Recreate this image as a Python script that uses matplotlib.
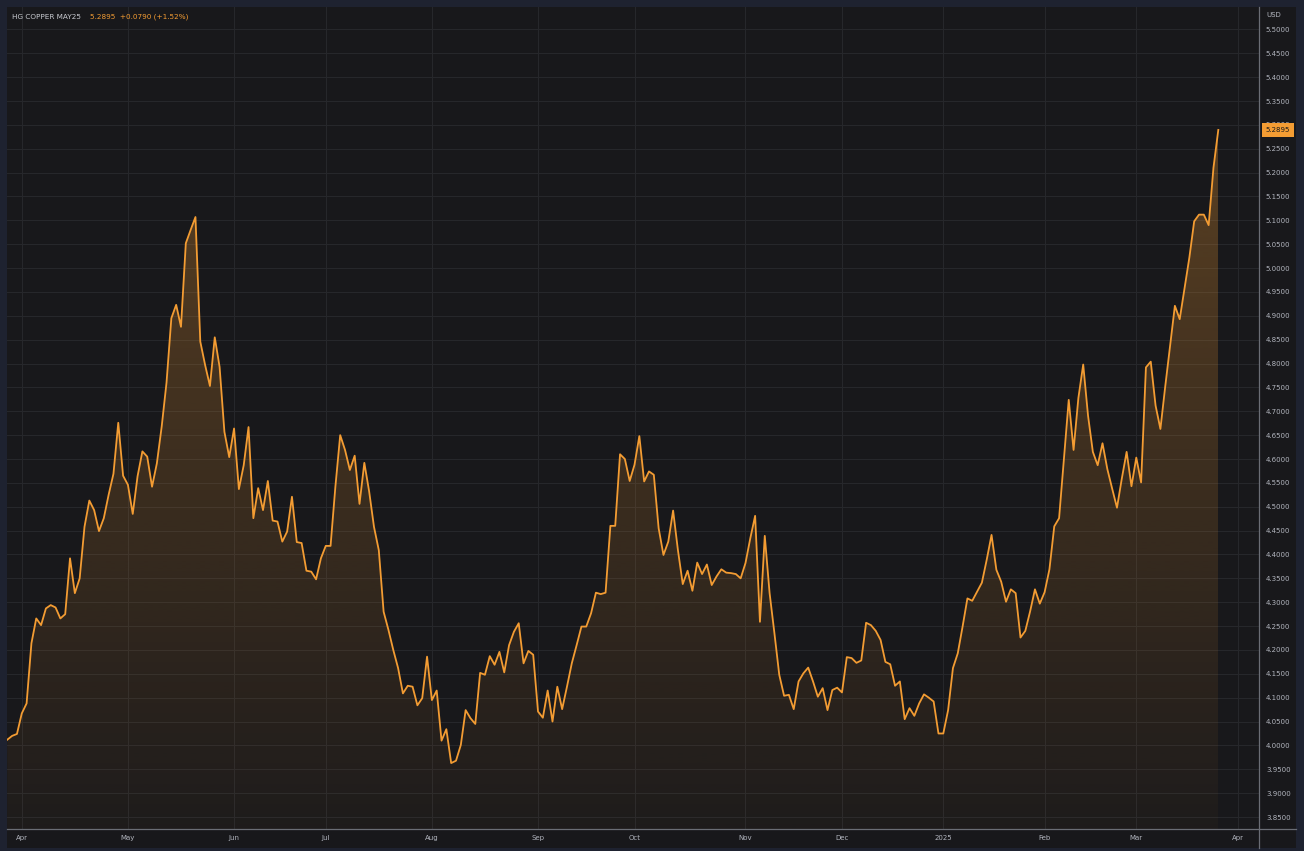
import numpy as np
import pandas as pd
import matplotlib
matplotlib.use("Agg")
import matplotlib.pyplot as plt
from matplotlib.patches import Rectangle
from matplotlib.lines import Line2D
from matplotlib.colors import to_rgb

# HG copper (May 25 contract), daily closes
price = [
    4.012, 4.020, 4.024, 4.067, 4.088, 4.214, 4.266, 4.252, 4.287, 4.294,
    4.289, 4.266, 4.275, 4.392, 4.319, 4.350, 4.458, 4.513, 4.493, 4.449,
    4.476, 4.525, 4.569, 4.676, 4.565, 4.546, 4.485, 4.564, 4.616, 4.605,
    4.542, 4.591, 4.668, 4.760, 4.895, 4.923, 4.877, 5.052, 5.080, 5.107,
    4.846, 4.797, 4.753, 4.855, 4.793, 4.657, 4.604, 4.664, 4.537, 4.587,
    4.667, 4.476, 4.539, 4.493, 4.554, 4.471, 4.469, 4.427, 4.448, 4.521,
    4.426, 4.424, 4.366, 4.364, 4.348, 4.392, 4.418, 4.418, 4.542, 4.650,
    4.619, 4.577, 4.607, 4.506, 4.592, 4.532, 4.458, 4.409, 4.280, 4.242,
    4.200, 4.162, 4.109, 4.125, 4.123, 4.084, 4.099, 4.186, 4.095, 4.115,
    4.010, 4.034, 3.963, 3.968, 4.001, 4.074, 4.057, 4.045, 4.152, 4.148,
    4.187, 4.169, 4.196, 4.153, 4.210, 4.238, 4.256, 4.172, 4.198, 4.190,
    4.071, 4.058, 4.115, 4.050, 4.123, 4.076, 4.123, 4.172, 4.210, 4.249,
    4.249, 4.277, 4.320, 4.317, 4.320, 4.460, 4.460, 4.610, 4.600, 4.554,
    4.588, 4.648, 4.553, 4.574, 4.567, 4.455, 4.399, 4.427, 4.492, 4.409,
    4.338, 4.366, 4.324, 4.383, 4.359, 4.379, 4.336, 4.354, 4.369, 4.362,
    4.361, 4.359, 4.350, 4.382, 4.434, 4.481, 4.259, 4.439, 4.319, 4.235,
    4.148, 4.104, 4.106, 4.076, 4.134, 4.151, 4.163, 4.134, 4.102, 4.120,
    4.074, 4.116, 4.121, 4.111, 4.185, 4.183, 4.173, 4.178, 4.257, 4.252,
    4.240, 4.221, 4.175, 4.170, 4.125, 4.134, 4.055, 4.078, 4.062, 4.088,
    4.107, 4.100, 4.092, 4.025, 4.025, 4.074, 4.162, 4.193, 4.249, 4.308,
    4.303, 4.322, 4.341, 4.389, 4.441, 4.368, 4.343, 4.301, 4.327, 4.319,
    4.226, 4.240, 4.281, 4.327, 4.297, 4.321, 4.369, 4.459, 4.476, 4.599,
    4.724, 4.619, 4.728, 4.798, 4.691, 4.615, 4.587, 4.633, 4.579, 4.538,
    4.498, 4.559, 4.615, 4.543, 4.603, 4.551, 4.792, 4.804, 4.712, 4.663,
    4.752, 4.836, 4.921, 4.893, 4.957, 5.022, 5.098, 5.112, 5.112, 5.090,
    5.2105, 5.2895,
]
first_date = "2024-03-26"
holidays = ["2024-03-29", "2024-05-27", "2024-06-19", "2024-07-04", "2024-09-02",
            "2024-11-28", "2024-12-25", "2025-01-01", "2025-01-20", "2025-02-17"]
y_ticks = np.round(np.arange(3.85, 5.5001, 0.05), 2)
title = "HG COPPER MAY25"
last_txt = "5.2895"
chg_txt = "+0.0790 (+1.52%)"

# colours
bg = "#18181b"
border = "#1e2230"
grid_c = "#26272b"
text_c = "#b2b5be"
orange = "#f39c33"

n = len(price)
dates = pd.bdate_range(start=first_date, periods=n, freq="C", holidays=holidays)
print("last date:", dates[-1])
axis_dates = pd.bdate_range(start=first_date, end="2025-04-30", freq="C", holidays=holidays)
idx = pd.Series(np.arange(len(axis_dates)), index=axis_dates)
firsts = idx.groupby([axis_dates.year, axis_dates.month]).first()
tick_pos, tick_lab = [], []
for (yr, mo), p in firsts.items():
    if p == 0:
        continue
    tick_pos.append(p)
    tick_lab.append(str(yr) if mo == 1 else pd.Timestamp(yr, mo, 1).strftime("%b"))

W, H = 1304, 851
fig = plt.figure(figsize=(W / 100, H / 100), dpi=100, facecolor=border)
panel = Rectangle((7 / W, 3 / H), 1289 / W, 841 / H, transform=fig.transFigure,
                  facecolor=bg, edgecolor="none", zorder=-10)
fig.add_artist(panel)
ax = fig.add_axes([7 / W, (H - 829) / H, 1252 / W, 822 / H], zorder=1)
ax.set_facecolor(bg)

x = np.arange(n)
y = np.array(price)
ymin, ymax = 3.8249, 5.547

# gradient area under the line
poly = ax.fill_between(x, y, ymin, facecolor="none", edgecolor="none")
grad = np.zeros((256, 1, 4))
grad[:, 0, :3] = to_rgb(orange)
grad[:, 0, 3] = np.linspace(0.03, 0.30, 256)
im = ax.imshow(grad, aspect="auto", origin="lower", extent=[0, n - 1, ymin, y.max()],
               zorder=1, interpolation="bilinear")
im.set_clip_path(poly.get_paths()[0], transform=ax.transData)

ax.plot(x, y, color=orange, lw=1.3, zorder=3)

step = 1211 / (n - 1)
ax.set_xlim(-0.3 / step, (n - 1) + 40.7 / step)
ax.set_ylim(ymin, ymax)

ax.yaxis.tick_right()
ax.set_yticks(y_ticks)
ax.set_yticklabels([f"{v:.4f}" for v in y_ticks])
ax.set_xticks(tick_pos)
ax.set_xticklabels(tick_lab)
ax.tick_params(axis="y", length=0, pad=5, labelsize=5, labelcolor=text_c)
ax.tick_params(axis="x", length=0, pad=4.5, labelsize=5, labelcolor=text_c)
ax.grid(True, color=grid_c, lw=0.8)
ax.set_axisbelow(True)
for s in ax.spines.values():
    s.set_visible(False)

# axis border lines
line_c = "#6a6d75"
fig.add_artist(Line2D([7 / W, 1296 / W], [(H - 829) / H] * 2, color=line_c, lw=0.9, zorder=5))
fig.add_artist(Line2D([1259 / W] * 2, [3 / H, (H - 7) / H], color=line_c, lw=0.9, zorder=5))

# last price tag
ax.annotate(last_txt, xy=(1, price[-1]), xycoords=("axes fraction", "data"),
            xytext=(5, 0), textcoords="offset points", ha="left", va="center",
            fontsize=5, color="#1a1a1a", zorder=10, annotation_clip=False,
            bbox=dict(boxstyle="square,pad=0.6", fc=orange, ec="none"))

fig.text(12 / W, 1 - 17 / H, title, color="#c9cbd1", fontsize=5.2, va="center")
fig.text(90 / W, 1 - 17 / H, last_txt + "  " + chg_txt, color=orange, fontsize=5.2, va="center")
fig.text(1266 / W, 1 - 15 / H, "USD", color=text_c, fontsize=5, va="center")

fig.savefig("out.png", dpi=100, facecolor=border)
